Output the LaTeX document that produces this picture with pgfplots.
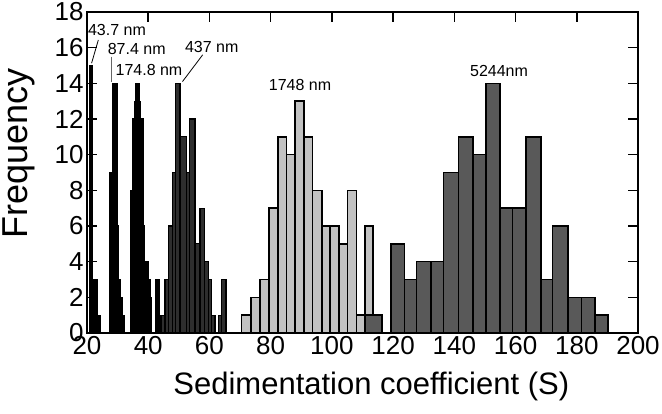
\documentclass[border=0pt]{standalone}
\usepackage{fontspec}
\setmainfont{Liberation Sans}
\usepackage{pgfplots}
\pgfplotsset{compat=1.18}
\begin{document}
\begin{tikzpicture}[x=1pt,y=1pt]
\useasboundingbox (0,0) rectangle (662,414);
\begin{axis}[
  at={(87pt,81pt)}, anchor=south west,
  width=551pt, height=321pt, scale only axis,
  xmin=20, xmax=200, ymin=0, ymax=18,
  xtick={20,40,...,200}, ytick={0,2,...,18},
  tick align=inside, major tick length=10pt,
  axis line style={line width=1.5pt},
  every tick/.style={black, line width=1.5pt},
  tick label style={font=\fontsize{26}{26}\selectfont},
  /pgf/number format/assume math mode=true,
  xlabel={Sedimentation coefficient (S)}, ylabel={Frequency},
  xlabel style={font=\fontsize{31}{31}\selectfont, at={(axis description cs:0.516,-0.193)}, anchor=base},
  ylabel style={font=\fontsize{36}{36}\selectfont, at={(axis description cs:-0.108,0.56)}, anchor=base},
  clip=false,
]
% 43.7 nm
\addplot[ybar interval, fill=black, draw=black, line width=1.2pt] coordinates {(20.85,15) (21.9,3) (23.4,1) (24.3,0)};
% 87.4 nm
\addplot[ybar interval, fill=black, draw=black, line width=1.2pt] coordinates {(27.4,9) (28.2,14) (29.95,6) (30.4,3) (31.0,2) (31.6,1) (32.2,0)};
% 174.8 nm
\addplot[ybar interval, fill=black, draw=black, line width=1.2pt] coordinates {(34.2,8) (34.9,12) (35.5,13) (36.0,14) (37.1,13) (37.6,12) (38.3,6) (38.8,4) (39.9,3) (40.6,2) (41.2,0) (42.5,3) (43.5,1) (44.4,0)};
% 437 nm
\addplot[ybar interval, fill=black!82, draw=black, line width=1.2pt] coordinates {(44.4,1) (45.5,3) (46.6,6) (47.9,9) (49.0,14) (50.4,11) (52.6,9) (53.6,12) (55.3,5) (56.9,7) (58.5,4) (59.6,3) (60.7,1) (61.8,0) (62.9,1) (64.0,3) (65.4,0)};
% 1748 nm
\addplot[ybar interval, fill=black!24, draw=black, line width=1.6pt] coordinates {(70.5,1) (73.6,2) (76.5,3) (79.5,7) (82.3,11) (85.2,10) (88.0,13) (90.9,11) (93.7,8) (96.7,6) (99.4,6) (102.3,5) (105.1,8) (108.1,1) (110.8,6) (113.5,1) (116.3,0)};
\addplot[ybar interval, fill=black!65, draw=black, line width=1.6pt] coordinates {(110.8,1) (116.3,0)};
% 5244 nm
\addplot[ybar interval, fill=black!65, draw=black, line width=1.6pt] coordinates {(119.3,5) (123.7,3) (127.7,4) (132.4,4) (136.5,9) (141.3,11) (146.0,10) (150.3,14) (154.9,7) (159.0,7) (163.4,11) (168.3,3) (172.1,6) (177.2,2) (181.5,2) (185.9,1) (190.2,0)};
% annotations
\node[font=\fontsize{16}{16}\selectfont, inner sep=0pt] at (axis cs:29.8,17.0) {43.7 nm};
\node[font=\fontsize{16}{16}\selectfont, inner sep=0pt] at (axis cs:36.24,15.93) {87.4 nm};
\node[font=\fontsize{16}{16}\selectfont, inner sep=0pt] at (axis cs:40.25,14.75) {174.8 nm};
\node[font=\fontsize{16}{16}\selectfont, inner sep=0pt] at (axis cs:60.74,16.01) {437 nm};
\node[font=\fontsize{16}{16}\selectfont, inner sep=0pt] at (axis cs:89.6,13.9) {1748 nm};
\node[font=\fontsize{16}{16}\selectfont, inner sep=0pt] at (axis cs:154.6,14.69) {5244nm};
\draw[line width=0.8pt] (axis cs:23.7,16.43) -- (axis cs:21.5,15.13);
\draw[line width=0.8pt, black!60] (axis cs:28.1,15.5) -- (axis cs:28.1,14.1);
\draw[line width=0.8pt] (axis cs:51.2,14.1) -- (axis cs:57.8,15.6);
\end{axis}
\end{tikzpicture}
\end{document}
